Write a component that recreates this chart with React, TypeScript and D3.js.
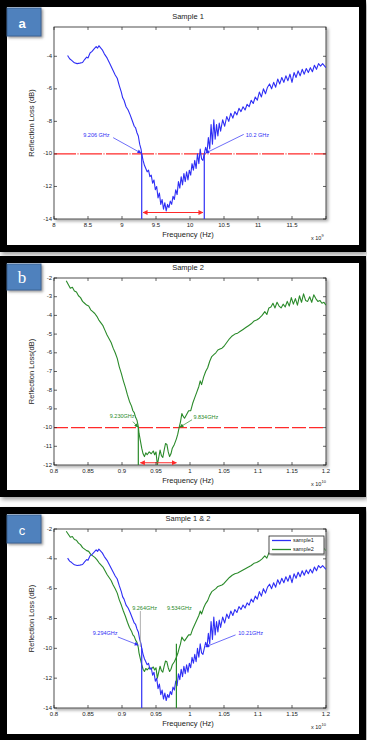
import * as d3 from 'd3';

// Frequencies in GHz, reflection loss in dB
const sample1Freq = [
  8.2, 8.23, 8.26, 8.3, 8.34, 8.38, 8.42, 8.45, 8.48, 8.5, 8.53, 8.56, 8.59, 8.62, 8.64, 8.66, 8.68, 8.71, 8.74, 8.78,
  8.82, 8.86, 8.9, 8.93, 8.96, 8.99, 9.01, 9.03, 9.06, 9.09, 9.12, 9.15, 9.18, 9.2, 9.22, 9.24, 9.26, 9.28, 9.29, 9.31,
  9.33, 9.35, 9.37, 9.39, 9.41, 9.43, 9.45, 9.47, 9.49, 9.51, 9.53, 9.55, 9.57, 9.59, 9.61, 9.63, 9.65, 9.67, 9.69, 9.71,
  9.73, 9.75, 9.77, 9.79, 9.81, 9.83, 9.85, 9.87, 9.89, 9.91, 9.93, 9.95, 9.97, 9.99, 10.01, 10.03, 10.05, 10.07, 10.09, 10.11,
  10.13, 10.15, 10.17, 10.19, 10.21, 10.23, 10.25, 10.27, 10.29, 10.31, 10.33, 10.35, 10.37, 10.39, 10.41, 10.43, 10.45, 10.48, 10.51, 10.54,
  10.57, 10.6, 10.63, 10.66, 10.69, 10.72, 10.75, 10.78, 10.81, 10.84, 10.87, 10.9, 10.93, 10.96, 10.99, 11.02, 11.05, 11.08, 11.11, 11.14,
  11.17, 11.2, 11.23, 11.26, 11.29, 11.32, 11.35, 11.38, 11.41, 11.44, 11.47, 11.5, 11.53, 11.56, 11.59, 11.62, 11.65, 11.68, 11.71, 11.74,
  11.77, 11.8, 11.83, 11.86, 11.89, 11.92, 11.95, 11.98, 12.0,
];
const sample1Loss = [
  -3.95, -4.15, -4.25, -4.4, -4.45, -4.42, -4.38, -4.2, -4.05, -4.1, -3.8, -3.7, -3.55, -3.4, -3.5, -3.35, -3.45, -3.6, -3.85, -4.1,
  -4.45, -4.8, -5.15, -5.35, -5.8, -6.2, -6.55, -6.7, -7.1, -7.3, -7.6, -7.95, -8.3, -8.4, -8.7, -8.9, -9.4, -9.7, -10.0, -10.4,
  -10.7, -10.9, -11.1, -11.0, -11.4, -11.3, -11.8, -11.6, -12.2, -12.0, -12.7, -12.4, -13.1, -12.8, -13.4, -13.0, -13.5, -13.1, -13.3, -12.9,
  -13.1, -12.6, -12.8, -12.2, -12.5, -11.7, -12.1, -11.4, -11.9, -11.2, -11.7, -11.1, -11.6, -11.0, -11.3, -10.6, -11.0, -10.4, -10.9, -10.0,
  -10.6, -9.7, -10.3, -10.4, -10.0, -9.6, -9.9, -9.0, -9.7, -8.2, -9.4, -7.9, -9.1, -8.2, -8.9, -8.1, -8.6, -7.9, -8.3, -7.7,
  -8.0, -7.5, -7.8, -7.4, -7.6, -7.2, -7.4, -7.1, -7.3, -6.95, -7.1, -6.7, -6.9, -6.5, -6.7, -6.2, -6.5, -6.0, -6.3, -5.9,
  -5.7, -6.0, -5.6, -5.9, -5.4, -5.7, -5.3, -5.6, -5.2, -5.5, -5.1, -5.6, -5.0, -5.3, -4.9, -5.2, -4.8, -5.1, -4.75, -5.0,
  -4.7, -4.95, -4.55, -4.8, -4.45, -4.6, -4.45, -4.6, -4.7,
];

const sample2Freq = [
  8.18, 8.21, 8.24, 8.27, 8.3, 8.33, 8.36, 8.39, 8.42, 8.45, 8.48, 8.51, 8.54, 8.57, 8.6, 8.63, 8.66, 8.69, 8.72, 8.75,
  8.78, 8.81, 8.84, 8.87, 8.9, 8.93, 8.96, 8.99, 9.02, 9.05, 9.08, 9.11, 9.14, 9.16, 9.18, 9.2, 9.22, 9.24, 9.25, 9.27,
  9.29, 9.31, 9.33, 9.35, 9.37, 9.4, 9.43, 9.46, 9.48, 9.5, 9.52, 9.54, 9.56, 9.58, 9.6, 9.62, 9.64, 9.66, 9.68, 9.7,
  9.72, 9.74, 9.77, 9.8, 9.82, 9.84, 9.86, 9.88, 9.9, 9.92, 9.95, 9.98, 10.01, 10.04, 10.07, 10.1, 10.13, 10.15, 10.17, 10.2,
  10.23, 10.26, 10.29, 10.32, 10.35, 10.38, 10.41, 10.44, 10.47, 10.5, 10.54, 10.58, 10.62, 10.66, 10.7, 10.74, 10.78, 10.82, 10.86, 10.9,
  10.94, 10.98, 11.02, 11.06, 11.1, 11.13, 11.16, 11.19, 11.22, 11.25, 11.28, 11.31, 11.34, 11.37, 11.4, 11.43, 11.46, 11.49, 11.52, 11.55,
  11.58, 11.61, 11.64, 11.67, 11.7, 11.73, 11.76, 11.79, 11.82, 11.85, 11.88, 11.91, 11.94, 11.97, 12.0,
];
const sample2Loss = [
  -2.15, -2.35, -2.55, -2.5, -2.7, -2.75, -2.95, -3.05, -3.25, -3.35, -3.45, -3.5, -3.7, -3.8, -3.9, -4.05, -4.25, -4.4, -4.55, -4.8,
  -5.05, -5.25, -5.45, -5.75, -6.0, -6.3, -6.75, -7.1, -7.5, -7.85, -8.25, -8.6, -8.85, -9.1, -9.2, -9.45, -9.6, -9.95, -10.3, -10.7,
  -11.1, -11.4, -11.55, -11.35, -11.45, -11.3, -11.4, -11.25, -11.45, -11.3, -12.0, -11.6, -11.2, -11.5, -11.6, -11.2, -10.85, -10.9, -11.3, -11.55,
  -11.4, -11.1, -10.9, -10.6, -10.35, -10.0, -9.7, -9.25, -9.4, -9.5, -9.3, -9.1, -9.1, -8.7, -8.4, -8.1, -7.8, -7.5, -7.7, -7.3,
  -7.0, -6.8, -6.45, -6.2, -6.1, -6.0, -5.85, -5.8, -5.75, -5.65, -5.45, -5.25, -5.1, -5.0, -4.95, -4.85, -4.75, -4.65, -4.55, -4.45,
  -4.3, -4.25, -4.15, -4.0, -3.8, -3.95, -3.6, -3.55, -3.35, -3.6, -3.3, -3.5, -3.6, -3.4, -3.55, -3.25, -3.5, -3.05, -3.4, -3.1,
  -3.45, -2.95, -3.3, -2.85, -3.2, -3.25, -3.0, -3.3, -2.9, -3.1, -3.25, -3.2, -3.35, -3.3, -3.45,
];

const freqTicks = [8, 8.5, 9, 9.5, 10, 10.5, 11, 11.5, 12];
const freqLabelsA = ['8', '8.5', '9', '9.5', '10', '10.5', '11', '11.5', ''];
const freqLabelsBC = ['0.8', '0.85', '0.9', '0.95', '1', '1.05', '1.1', '1.15', '1.2'];
const lossTicksA = [-4, -6, -8, -10, -12, -14];
const lossTicksB = [-2, -3, -4, -5, -6, -7, -8, -9, -10, -11, -12];
const lossTicksC = [-2, -4, -6, -8, -10, -12, -14];

const BLUE = '#2f2ff5';
const GREEN = '#2a8a2a';
const RED = '#ff2a2a';
const FONT = '"Liberation Sans", Arial, sans-serif';

const sample1 = sample1Freq.map((f, i) => [f, sample1Loss[i]] as [number, number]);
const sample2 = sample2Freq.map((f, i) => [f, sample2Loss[i]] as [number, number]);

type Note = { text: string; color: string; tf: number; tv: number; from?: [number, number]; to?: [number, number] };
type VLine = { f: number; v0: number; v1: number; color: string; width?: number };

const panels = [
  {
    key: 'a', letter: 'a', letterFont: FONT, frameTop: 0, frameBottom: 252,
    top: 27, bottom: 219, yDomain: [-14, -2.2], yTicks: lossTicksA, xLabels: freqLabelsA,
    title: 'Sample 1', ylabel: 'Reflection Loss (dB)', exp: '9',
    series: [{ data: sample1, color: BLUE }],
    redLine: { v: -10, dash: '22,1.5,1,1.5' },
    vlines: [
      { f: 9.29, v0: -10, v1: -14, color: BLUE },
      { f: 10.21, v0: -10, v1: -14, color: BLUE },
    ] as VLine[],
    arrow: { v: -13.6, f0: 9.31, f1: 10.19 },
    notes: [
      { text: '9.206 GHz', color: BLUE, tf: 8.43, tv: -8.9, from: [8.87, -9.0], to: [9.28, -9.95] },
      { text: '10.2 GHz', color: BLUE, tf: 10.82, tv: -8.85, from: [10.79, -8.8], to: [10.23, -9.95] },
    ] as Note[],
    legend: false,
  },
  {
    key: 'b', letter: 'b', letterFont: '"Liberation Serif", "Times New Roman", serif', frameTop: 256, frameBottom: 497,
    top: 278, bottom: 465, yDomain: [-12, -2], yTicks: lossTicksB, xLabels: freqLabelsBC,
    title: 'Sample 2', ylabel: 'Reflection Loss(dB)', exp: '10',
    series: [{ data: sample2, color: GREEN }],
    redLine: { v: -10, dash: '14,3' },
    vlines: [{ f: 9.24, v0: -10, v1: -12, color: GREEN }] as VLine[],
    arrow: { v: -11.88, f0: 9.27, f1: 9.8 },
    notes: [
      { text: '9.230GHz', color: GREEN, tf: 8.82, tv: -9.42, from: [9.16, -9.68], to: [9.235, -9.98] },
      { text: '9.834GHz', color: GREEN, tf: 10.05, tv: -9.47, from: [10.03, -9.58], to: [9.85, -9.98] },
    ] as Note[],
    legend: false,
  },
  {
    key: 'c', letter: 'c', letterFont: FONT, frameTop: 507, frameBottom: 741,
    top: 529, bottom: 708, yDomain: [-14, -2], yTicks: lossTicksC, xLabels: freqLabelsBC,
    title: 'Sample 1 & 2', ylabel: 'Reflection Loss (dB)', exp: '10',
    series: [{ data: sample2, color: GREEN }, { data: sample1, color: BLUE }],
    redLine: null,
    vlines: [
      { f: 9.27, v0: -7.5, v1: -9.9, color: '#9a9a9a', width: 0.8 },
      { f: 9.29, v0: -10, v1: -14, color: BLUE },
      { f: 9.8, v0: -9.7, v1: -14, color: GREEN },
    ] as VLine[],
    arrow: null,
    notes: [
      { text: '9.264GHz', color: GREEN, tf: 9.15, tv: -7.3 },
      { text: '9.534GHz', color: GREEN, tf: 9.66, tv: -7.3 },
      { text: '9.294GHz', color: BLUE, tf: 8.57, tv: -9.04, from: [8.94, -9.24], to: [9.24, -9.78] },
      { text: '10.21GHz', color: BLUE, tf: 10.71, tv: -9.04, from: [10.67, -9.1], to: [10.23, -9.9] },
    ] as Note[],
    legend: true,
  },
];

const LEFT = 54;
const RIGHT = 326;

function Panel({ p }: { p: (typeof panels)[number] }) {
  const x = d3.scaleLinear().domain([8, 12]).range([LEFT, RIGHT]);
  const y = d3.scaleLinear().domain(p.yDomain).range([p.bottom, p.top]);
  const line = d3.line<[number, number]>().x(d => x(d[0])).y(d => y(d[1]));
  const midY = (p.top + p.bottom) / 2;
  const clipId = `clip-${p.key}`;

  return (
    <g>
      {/* panel frame */}
      <rect x={3.5} y={p.frameTop + 3.5} width={359} height={p.frameBottom - p.frameTop - 7}
        fill="#fff" stroke="#000" strokeWidth={7} filter="url(#frameShadow)" />

      {/* letter badge */}
      <rect x={7} y={p.frameTop + 8} width={34} height={p.key === 'b' ? 26 : 28}
        fill="#4f81bd" stroke="#3d6594" strokeWidth={1} filter="url(#badgeShadow)" />
      <text x={22} y={p.frameTop + (p.key === 'b' ? 27 : 28)} fill="#fff" fontFamily={p.letterFont}
        fontSize={p.key === 'b' ? 17 : 13} fontWeight={p.key === 'a' ? 'bold' : 'normal'} textAnchor="middle">{p.letter}</text>

      {/* axes box */}
      <rect x={LEFT} y={p.top} width={RIGHT - LEFT} height={p.bottom - p.top} fill="#fff"
        stroke="#222" strokeWidth={0.8} filter="url(#plotShadow)" />

      <clipPath id={clipId}>
        <rect x={LEFT} y={p.top} width={RIGHT - LEFT} height={p.bottom - p.top} />
      </clipPath>

      <g clipPath={`url(#${clipId})`}>
        {p.redLine && (
          <line x1={LEFT} x2={RIGHT} y1={y(p.redLine.v)} y2={y(p.redLine.v)} stroke={RED}
            strokeWidth={1.3} strokeDasharray={p.redLine.dash} />
        )}
        {p.series.map((s, i) => (
          <path key={i} d={line(s.data) || ''} fill="none" stroke={s.color} strokeWidth={1.1} strokeLinejoin="round" />
        ))}
        {p.vlines.map((v, i) => (
          <line key={i} x1={x(v.f)} x2={x(v.f)} y1={y(v.v0)} y2={y(v.v1)} stroke={v.color} strokeWidth={v.width ?? 1.2} />
        ))}
        {p.arrow && (
          <line x1={x(p.arrow.f0)} x2={x(p.arrow.f1)} y1={y(p.arrow.v)} y2={y(p.arrow.v)} stroke={RED}
            strokeWidth={1.2} markerStart="url(#redStart)" markerEnd="url(#redEnd)" />
        )}
      </g>

      {/* annotations */}
      {p.notes.map((n, i) => (
        <g key={i}>
          <text x={x(n.tf)} y={y(n.tv)} fill={n.color} fontFamily={FONT} fontSize={5.5} dominantBaseline="middle">{n.text}</text>
          {n.from && n.to && (
            <line x1={x(n.from[0])} y1={y(n.from[1])} x2={x(n.to[0])} y2={y(n.to[1])} stroke={n.color} strokeWidth={0.7}
              markerEnd={n.color === BLUE ? 'url(#blueHead)' : 'url(#greenHead)'} />
          )}
        </g>
      ))}

      {/* ticks on all four sides */}
      {freqTicks.map((t, i) => (
        <g key={`x${i}`}>
          <line x1={x(t)} x2={x(t)} y1={p.bottom} y2={p.bottom - 3} stroke="#222" strokeWidth={0.7} />
          <line x1={x(t)} x2={x(t)} y1={p.top} y2={p.top + 3} stroke="#222" strokeWidth={0.7} />
          <text x={x(t)} y={p.bottom + 8} textAnchor="middle" fontFamily={FONT} fontSize={6} fill="#222">{p.xLabels[i]}</text>
        </g>
      ))}
      {p.yTicks.map((t, i) => (
        <g key={`y${i}`}>
          <line x1={LEFT} x2={LEFT + 3} y1={y(t)} y2={y(t)} stroke="#222" strokeWidth={0.7} />
          <line x1={RIGHT} x2={RIGHT - 3} y1={y(t)} y2={y(t)} stroke="#222" strokeWidth={0.7} />
          <text x={LEFT - 2} y={y(t)} textAnchor="end" dominantBaseline="middle" fontFamily={FONT} fontSize={6} fill="#222">{t}</text>
        </g>
      ))}

      {/* titles and labels */}
      <text x={188} y={p.top - 8} textAnchor="middle" fontFamily={FONT} fontSize={7.5} fill="#222">{p.title}</text>
      <text x={188} y={p.bottom + 18} textAnchor="middle" fontFamily={FONT} fontSize={7.5} fill="#222">Frequency (Hz)</text>
      <text transform={`translate(34,${midY}) rotate(-90)`} textAnchor="middle" fontFamily={FONT} fontSize={7.5} fill="#222">{p.ylabel}</text>
      <text x={311} y={p.bottom + 21} fontFamily={FONT} fontSize={5.5} fill="#222">
        x 10<tspan dy={-3} fontSize={4}>{p.exp}</tspan>
      </text>

      {p.legend && (
        <g>
          <rect x={269} y={536} width={55} height={18} fill="#fff" stroke="#222" strokeWidth={0.8} filter="url(#plotShadow)" />
          <line x1={272} x2={291} y1={540.5} y2={540.5} stroke={BLUE} strokeWidth={1.3} />
          <text x={293} y={541} dominantBaseline="middle" fontFamily={FONT} fontSize={5.5} fill="#222">sample1</text>
          <line x1={272} x2={291} y1={549.5} y2={549.5} stroke={GREEN} strokeWidth={1.3} />
          <text x={293} y={550} dominantBaseline="middle" fontFamily={FONT} fontSize={5.5} fill="#222">sample2</text>
        </g>
      )}
    </g>
  );
}

export default function App() {
  return (
    <div style={{ position: 'absolute', left: 0, top: 0 }}>
      <svg width={367} height={740} style={{ display: 'block', background: '#fff' }}>
        <defs>
          <filter id="frameShadow" x="-5%" y="-5%" width="115%" height="115%">
            <feDropShadow dx={1.5} dy={2.5} stdDeviation={2} floodColor="#777" floodOpacity={0.7} />
          </filter>
          <filter id="plotShadow" x="-5%" y="-5%" width="115%" height="115%">
            <feDropShadow dx={2} dy={2} stdDeviation={1.5} floodColor="#888" floodOpacity={0.7} />
          </filter>
          <filter id="badgeShadow" x="-20%" y="-20%" width="150%" height="150%">
            <feDropShadow dx={1.5} dy={1.5} stdDeviation={1} floodColor="#555" floodOpacity={0.6} />
          </filter>
          <marker id="redEnd" viewBox="0 0 10 10" refX={9} refY={5} markerWidth={5} markerHeight={5} orient="auto" markerUnits="userSpaceOnUse">
            <path d="M0,0 L10,5 L0,10 z" fill={RED} />
          </marker>
          <marker id="redStart" viewBox="0 0 10 10" refX={1} refY={5} markerWidth={5} markerHeight={5} orient="auto" markerUnits="userSpaceOnUse">
            <path d="M10,0 L0,5 L10,10 z" fill={RED} />
          </marker>
          <marker id="blueHead" viewBox="0 0 10 10" refX={9} refY={5} markerWidth={5} markerHeight={4} orient="auto" markerUnits="userSpaceOnUse">
            <path d="M0,0 L10,5 L0,10 z" fill={BLUE} />
          </marker>
          <marker id="greenHead" viewBox="0 0 10 10" refX={9} refY={5} markerWidth={5} markerHeight={4} orient="auto" markerUnits="userSpaceOnUse">
            <path d="M0,0 L10,5 L0,10 z" fill={GREEN} />
          </marker>
        </defs>
        {panels.map(p => <Panel key={p.key} p={p} />)}
      </svg>
    </div>
  );
}
